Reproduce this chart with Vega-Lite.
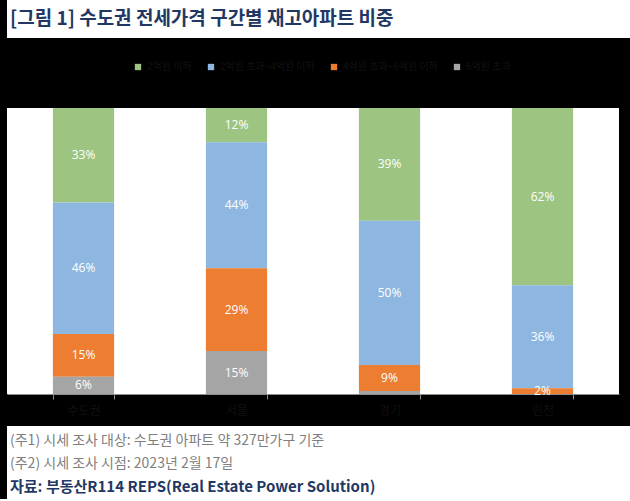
{
  "$schema": "https://vega.github.io/schema/vega-lite/v6.json",
  "background": "#000000",
  "padding": 0,
  "spacing": 2,
  "resolve": {"legend": {"color": "independent"}, "scale": {"color": "independent"}},
  "config": {"font": "Noto Sans CJK KR", "view": {"stroke": null}},
  "vconcat": [
    {
      "width": 630,
      "height": 38,
      "view": {"fill": "#ffffff", "stroke": null},
      "data": {"values": [{"t": "[그림 1] 수도권 전세가격 구간별 재고아파트 비중", "x": 0, "y": 0}]},
      "mark": {"type": "text", "align": "left", "baseline": "middle", "dx": 3, "fontSize": 19, "fontWeight": "bold", "color": "#1F3864"},
      "encoding": {
        "x": {"field": "x", "type": "quantitative", "scale": {"domain": [0, 1]}, "axis": null},
        "y": {"field": "y", "type": "quantitative", "scale": {"domain": [-1, 1]}, "axis": null},
        "text": {"field": "t"}
      }
    },
    {
      "spacing": 10,
      "resolve": {"legend": {"color": "independent"}, "scale": {"color": "independent"}},
      "vconcat": [
        {
          "width": 612,
          "height": 286,
          "view": {"fill": "#ffffff", "stroke": null},
          "data": {"values": [
            {"g": "수도권", "c": "2억원 이하", "o": 4, "v": 0.33},
            {"g": "수도권", "c": "2억원 초과~4억원 이하", "o": 3, "v": 0.46},
            {"g": "수도권", "c": "4억원 초과~6억원 이하", "o": 2, "v": 0.15},
            {"g": "수도권", "c": "6억원 초과", "o": 1, "v": 0.06},
            {"g": "서울", "c": "2억원 이하", "o": 4, "v": 0.12},
            {"g": "서울", "c": "2억원 초과~4억원 이하", "o": 3, "v": 0.44},
            {"g": "서울", "c": "4억원 초과~6억원 이하", "o": 2, "v": 0.29},
            {"g": "서울", "c": "6억원 초과", "o": 1, "v": 0.15},
            {"g": "경기", "c": "2억원 이하", "o": 4, "v": 0.39},
            {"g": "경기", "c": "2억원 초과~4억원 이하", "o": 3, "v": 0.50},
            {"g": "경기", "c": "4억원 초과~6억원 이하", "o": 2, "v": 0.09},
            {"g": "경기", "c": "6억원 초과", "o": 1, "v": 0.01},
            {"g": "인천", "c": "2억원 이하", "o": 4, "v": 0.62},
            {"g": "인천", "c": "2억원 초과~4억원 이하", "o": 3, "v": 0.36},
            {"g": "인천", "c": "4억원 초과~6억원 이하", "o": 2, "v": 0.02},
            {"g": "인천", "c": "6억원 초과", "o": 1, "v": 0.0}
          ]},
          "transform": [
            {"stack": "v", "groupby": ["g"], "sort": [{"field": "o", "order": "ascending"}], "offset": "normalize", "as": ["y0", "y1"]}
          ],
          "layer": [
            {
              "mark": {"type": "bar"},
              "encoding": {
                "x": {
                  "field": "g", "type": "nominal", "sort": ["수도권", "서울", "경기", "인천"],
                  "scale": {"paddingInner": 0.6, "paddingOuter": 0.3},
                  "axis": {"title": null, "labelAngle": 0, "labelColor": "#101010", "labelFontSize": 12, "labelPadding": 6, "domainColor": "#8c8c8c", "tickColor": "#8c8c8c", "tickSize": 5, "tickBand": "extent", "grid": false}
                },
                "y": {
                  "field": "y0", "type": "quantitative", "scale": {"domain": [0, 1]},
                  "axis": {"title": null, "labels": false, "ticks": false, "grid": false, "domain": true, "domainColor": "#000000", "offset": 7}
                },
                "y2": {"field": "y1"},
                "color": {
                  "field": "c", "type": "nominal",
                  "scale": {"domain": ["2억원 이하", "2억원 초과~4억원 이하", "4억원 초과~6억원 이하", "6억원 초과"], "range": ["#9DC480", "#8DB7E0", "#ED7D31", "#A5A5A5"]},
                  "legend": {"title": null, "orient": "none", "legendX": 104, "legendY": -68, "direction": "horizontal", "symbolType": "square", "symbolSize": 40, "labelFontSize": 10, "labelColor": "#121212", "padding": 22, "columnPadding": 14}
                }
              }
            },
            {
              "transform": [
                {"filter": "datum.v >= 0.02"},
                {"fold": ["y0", "y1"], "as": ["k", "yy"]},
                {"aggregate": [{"op": "mean", "field": "yy", "as": "ym"}], "groupby": ["g", "c", "v"]}
              ],
              "mark": {"type": "text", "color": "#ffffff", "fontSize": 12, "font": "Open Sans", "baseline": "middle"},
              "encoding": {
                "x": {"field": "g", "type": "nominal", "sort": ["수도권", "서울", "경기", "인천"]},
                "y": {"field": "ym", "type": "quantitative"},
                "text": {"field": "v", "type": "quantitative", "format": ".0%"}
              }
            }
          ]
        },
        {
          "width": 630,
          "height": 73,
          "view": {"fill": "#ffffff", "stroke": null},
          "data": {"values": [
            {"t": "(주1) 시세 조사 대상: 수도권 아파트 약 327만가구 기준", "n": 1, "x": 0, "k": "note"},
            {"t": "(주2) 시세 조사 시점: 2023년 2월 17일", "n": 2, "x": 0, "k": "note"},
            {"t": "자료: 부동산R114 REPS(Real Estate Power Solution)", "n": 3, "x": 0, "k": "src"}
          ]},
          "encoding": {
            "x": {"field": "x", "type": "quantitative", "scale": {"domain": [0, 1]}, "axis": null},
            "y": {"field": "n", "type": "quantitative", "scale": {"domain": [0.348, 3.522], "reverse": true}, "axis": null},
            "text": {"field": "t"}
          },
          "layer": [
            {"transform": [{"filter": "datum.k == 'note'"}], "mark": {"type": "text", "align": "left", "baseline": "middle", "dx": 3, "fontSize": 14, "color": "#7f7f7f"}},
            {"transform": [{"filter": "datum.k == 'src'"}], "mark": {"type": "text", "align": "left", "baseline": "middle", "dx": 3, "fontSize": 15, "fontWeight": "bold", "color": "#1F3864"}}
          ]
        }
      ]
    }
  ]
}
